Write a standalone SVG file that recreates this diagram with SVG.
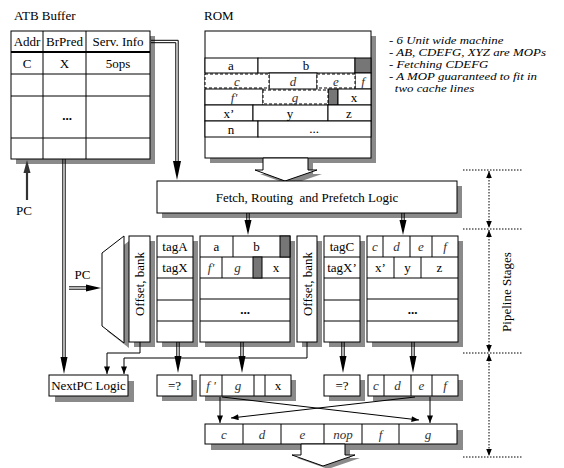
<svg xmlns="http://www.w3.org/2000/svg" width="564" height="468" viewBox="0 0 564 468">
<defs>
<style>
.b{fill:#fff;stroke:#000;stroke-width:1}
.sh{fill:#8a8a8a;stroke:none}
.dk{fill:#767676;stroke:#000;stroke-width:1}
.ds{fill:#fff;stroke:#000;stroke-width:1;stroke-dasharray:3,2}
.ln{fill:none;stroke:#000;stroke-width:1}
.dt{fill:none;stroke:#000;stroke-width:1;stroke-dasharray:1.5,1.5}
.hd{fill:#000;stroke:none}
text{font-family:"Liberation Serif","Times New Roman",serif;font-size:13px;fill:#000}
.c{text-anchor:middle}
.i{font-style:italic;fill:#333}
.n{font-style:italic;font-size:11px}
</style>
<marker id="ah" viewBox="0 0 10 8" refX="10" refY="4" markerWidth="8" markerHeight="6" markerUnits="userSpaceOnUse" orient="auto"><path d="M0,0 L10,4 L0,8 z" fill="#000"/></marker>
<marker id="sm" viewBox="0 0 10 8" refX="10" refY="4" markerWidth="7" markerHeight="6" markerUnits="userSpaceOnUse" orient="auto-start-reverse"><path d="M0,0 L10,4 L0,8 z" fill="#000"/></marker>
</defs>
<rect width="564" height="468" fill="#fff"/>

<g id="atb">
<text x="14" y="19.5" font-size="14">ATB Buffer</text>
<rect class="sh" x="16" y="36" width="139" height="128"/>
<rect class="b" x="11" y="31" width="139" height="128"/>
<path class="ln" d="M43,31V159M86,31V159M11,74H150M11,96H150M11,138H150"/>
<path d="M11,52H150" stroke="#000" stroke-width="2"/>
<text class="c" x="27" y="46" font-size="12.5">Addr</text>
<text class="c" x="64.5" y="46" font-size="12.5">BrPred</text>
<text class="c" x="118" y="46" font-size="12.5">Serv. Info</text>
<text class="c" x="27" y="68">C</text>
<text class="c" x="64.5" y="68">X</text>
<text class="c" x="118" y="68" font-size="12">5ops</text>
<text class="c" x="67" y="120" font-weight="bold">...</text>
</g>

<g id="rom">
<text x="204" y="19.5" font-size="14">ROM</text>
<rect class="sh" x="210" y="36" width="166" height="127"/>
<rect class="b" x="205" y="31" width="166" height="127"/>
<rect class="b" x="205" y="58" width="53" height="15"/>
<rect class="b" x="258" y="58" width="97" height="15"/>
<rect class="dk" x="355" y="58" width="16" height="15"/>
<rect class="b" x="269" y="73" width="48" height="16"/>
<rect class="b" x="355" y="73" width="16" height="16"/>
<rect class="ds" x="205" y="74" width="64" height="14"/>
<rect class="ds" x="317" y="74" width="38" height="14"/>
<rect class="b" x="205" y="89" width="58" height="16"/>
<rect class="dk" x="328" y="89" width="10" height="16"/>
<rect class="b" x="338" y="89" width="33" height="16"/>
<rect class="ds" x="263" y="90" width="65" height="14"/>
<rect class="b" x="205" y="105" width="48" height="16"/>
<rect class="b" x="253" y="105" width="75" height="16"/>
<rect class="b" x="328" y="105" width="43" height="16"/>
<rect class="b" x="205" y="121" width="53" height="16"/>
<rect class="b" x="258" y="121" width="113" height="16"/>
<text class="c" x="231" y="69.5" font-size="12">a</text>
<text class="c" x="306" y="69.5" font-size="12">b</text>
<text class="c i" x="237" y="85.5" font-size="12">c</text>
<text class="c i" x="293" y="85.5" font-size="12">d</text>
<text class="c i" x="336" y="85.5" font-size="12">e</text>
<text class="c i" x="363" y="85.5" font-size="12">f</text>
<text class="c i" x="234" y="101.5" font-size="12">f'</text>
<text class="c i" x="295" y="101.5" font-size="12">g</text>
<text class="c" x="354" y="101.5" font-size="12">x</text>
<text class="c" x="229" y="117.5" font-size="12">x’</text>
<text class="c" x="290" y="117.5" font-size="12">y</text>
<text class="c" x="349" y="117.5" font-size="12">z</text>
<text class="c" x="231" y="133.5" font-size="12">n</text>
<text class="c" x="314" y="133" font-size="12">...</text>
<polygon class="sh" points="268,162 268,174 260,174 290,185 322,174 313,174 313,162"/>
<polygon class="b" points="263,158 263,170 255,170 285,181 317,170 308,170 308,158"/>
</g>

<g id="notes" transform="translate(389,0) scale(1.17,1)">
<text class="n" x="0" y="44">- 6 Unit wide machine</text>
<text class="n" x="0" y="56">- AB, CDEFG, XYZ are MOPs</text>
<text class="n" x="0" y="68">- Fetching CDEFG</text>
<text class="n" x="0" y="80">- A MOP guaranteed to fit in</text>
<text class="n" x="5" y="92">two cache lines</text>
</g>

<g id="fetch">
<rect class="sh" x="162" y="186" width="300" height="32"/>
<rect class="b" x="157" y="181" width="300" height="32"/>
<text class="c" x="307" y="202" font-size="14.5">Fetch, Routing &#160;and Prefetch Logic</text>
</g>

<g id="mux">
<polygon class="sh" points="107,258 129,241 129,348 107,331"/>
<polygon class="b" points="102,253 124,236 124,343 102,326"/>
</g>

<g id="offset1">
<rect class="sh" x="134" y="241" width="21" height="106"/>
<rect class="b" x="129" y="236" width="21" height="106"/>
<text class="c" transform="translate(144,284) rotate(-90)" font-size="12.5">Offset, bank</text>
</g>

<g id="tags1">
<rect class="sh" x="162" y="241" width="36" height="106"/>
<rect class="b" x="157" y="236" width="36" height="106"/>
<path class="ln" d="M157,257H193M157,278H193M157,300H193M157,321H193"/>
<text class="c" x="175" y="251">tagA</text>
<text class="c" x="175" y="272">tagX</text>
</g>

<g id="lineA">
<rect class="sh" x="205" y="241" width="90" height="106"/>
<rect class="b" x="200" y="236" width="90" height="106"/>
<path class="ln" d="M200,257H290M200,278H290M200,299H290M200,321H290M233,236V257M222,257V278"/>
<rect class="dk" x="280" y="236" width="10" height="21"/>
<rect class="dk" x="253" y="257" width="9" height="21"/>
<text class="c" x="216.5" y="251">a</text>
<text class="c" x="256.5" y="251">b</text>
<text class="c i" x="211" y="272">f'</text>
<text class="c i" x="237.5" y="272">g</text>
<text class="c" x="276" y="272">x</text>
<text class="c" x="245" y="314" font-weight="bold">...</text>
</g>

<g id="offset2">
<rect class="sh" x="302" y="241" width="20" height="106"/>
<rect class="b" x="297" y="236" width="20" height="106"/>
<text class="c" transform="translate(312,284) rotate(-90)" font-size="12.5">Offset, bank</text>
</g>

<g id="tags2">
<rect class="sh" x="329" y="241" width="36" height="106"/>
<rect class="b" x="324" y="236" width="36" height="106"/>
<path class="ln" d="M324,257H360M324,278H360M324,300H360M324,321H360"/>
<text class="c" x="342" y="251">tagC</text>
<text class="c" x="342" y="272">tagX’</text>
</g>

<g id="lineC">
<rect class="sh" x="372" y="241" width="91" height="106"/>
<rect class="b" x="367" y="236" width="91" height="106"/>
<path class="ln" d="M367,257H458M367,278H458M367,299H458M367,321H458M383,236V257M410,236V257M432,236V257M394,257V278M421,257V278"/>
<text class="c i" x="375" y="251">c</text>
<text class="c i" x="396.5" y="251">d</text>
<text class="c i" x="421" y="251">e</text>
<text class="c i" x="445" y="251">f</text>
<text class="c" x="380.5" y="272">x’</text>
<text class="c" x="407.5" y="272">y</text>
<text class="c" x="439.5" y="272">z</text>
<text class="c" x="412.5" y="314" font-weight="bold">...</text>
</g>

<g id="nextpc">
<rect class="sh" x="55" y="381" width="79" height="21"/>
<rect class="b" x="49" y="375" width="79" height="21"/>
<text class="c" x="88.5" y="390">NextPC Logic</text>
</g>

<g id="cmp1">
<rect class="sh" x="162" y="380" width="35" height="21"/>
<rect class="b" x="157" y="375" width="35" height="21"/>
<text class="c" x="174.5" y="389.5" font-size="12">=?</text>
</g>

<g id="selA">
<rect class="sh" x="205" y="380" width="91" height="21"/>
<rect class="b" x="200" y="375" width="91" height="21"/>
<path class="ln" d="M222,375V396M254,375V396M265,375V396"/>
<text class="c i" x="211" y="390">f '</text>
<text class="c i" x="238" y="390">g</text>
<text class="c" x="278" y="390">x</text>
</g>

<g id="cmp2">
<rect class="sh" x="329" y="380" width="36" height="21"/>
<rect class="b" x="324" y="375" width="36" height="21"/>
<text class="c" x="342" y="389.5" font-size="12">=?</text>
</g>

<g id="selC">
<rect class="sh" x="373" y="380" width="90" height="21"/>
<rect class="b" x="368" y="375" width="90" height="21"/>
<path class="ln" d="M384,375V396M411,375V396M432,375V396"/>
<text class="c i" x="376" y="390">c</text>
<text class="c i" x="397.5" y="390">d</text>
<text class="c i" x="421.5" y="390">e</text>
<text class="c i" x="445" y="390">f</text>
</g>

<g id="issue">
<rect class="sh" x="211" y="430" width="252" height="20"/>
<rect class="b" x="205" y="424" width="252" height="20"/>
<path class="ln" d="M243,424V444M281,424V444M324,424V444M362,424V444M399,424V444"/>
<text class="c i" x="224" y="438.5">c</text>
<text class="c i" x="262" y="438.5">d</text>
<text class="c i" x="302.5" y="438.5">e</text>
<text class="c i" x="343" y="438.5">nop</text>
<text class="c i" x="380.5" y="438.5">f</text>
<text class="c i" x="428" y="438.5">g</text>
<polygon class="sh" points="306,447 306,458 297,458 328,469 360,458 350,458 350,447"/>
<polygon class="b" points="301,444 301,455 292,455 323,466 355,455 345,455 345,444"/>
</g>

<g id="stages">
<path class="dt" d="M463,170H522M463,229H522M463,353H522M463,457H522"/>
<path class="dt" d="M489,171V228" marker-start="url(#sm)" marker-end="url(#sm)"/>
<path class="dt" d="M489,230V352" marker-start="url(#sm)" marker-end="url(#sm)"/>
<path class="dt" d="M489,354V456" marker-start="url(#sm)" marker-end="url(#sm)"/>
<text class="c" transform="translate(511,292) rotate(-90)">Pipeline Stages</text>
</g>

<g id="connectors">
<path class="ln" d="M151,40.3H178.2V163M151,42.7H175.8V163"/>
<polygon class="hd" points="173,161 181,161 177,180"/>
<path class="ln" d="M62.8,159V358M65.2,159V358"/>
<polygon class="hd" points="60.5,357 67.5,357 64,374"/>
<path d="M27,200V170" stroke="#333" stroke-width="2.2" fill="none"/>
<polygon points="23.5,173 30.5,173 27,160" fill="#333"/>
<text class="c" x="24" y="215" font-size="12">PC</text>
<text class="c" x="82.5" y="279" font-size="12">PC</text>
<path class="ln" d="M69,286.8H88M69,289.2H88"/>
<polygon class="hd" points="86,284.5 86,291.5 101,288"/>
<path class="ln" d="M246.8,213V222M249.2,213V222"/>
<polygon class="hd" points="244.5,220 251.5,220 248,235"/>
<path class="ln" d="M401.8,213V222M404.2,213V222"/>
<polygon class="hd" points="399.5,220 406.5,220 403,235"/>
<path class="ln" d="M140,342V353H107V374" marker-end="url(#ah)"/>
<path class="ln" d="M307,342V358H124V374" marker-end="url(#ah)"/>
<path class="ln" d="M176.8,342V358M179.2,342V358"/>
<polygon class="hd" points="174.5,356 181.5,356 178,373"/>
<path class="ln" d="M240.8,342V358M243.2,342V358"/>
<polygon class="hd" points="238.5,356 245.5,356 242,373"/>
<path class="ln" d="M341.8,342V358M344.2,342V358"/>
<polygon class="hd" points="339.5,356 346.5,356 343,373"/>
<path class="ln" d="M411.8,342V358M414.2,342V358"/>
<polygon class="hd" points="409.5,356 416.5,356 413,373"/>
<path class="ln" d="M220,397V423" marker-end="url(#ah)"/>
<path class="ln" d="M430,397V423" marker-end="url(#ah)"/>
<path class="ln" d="M222,397L419,420" marker-end="url(#ah)"/>
<path class="ln" d="M415,397L231,418" marker-end="url(#ah)"/>
</g>
</svg>
